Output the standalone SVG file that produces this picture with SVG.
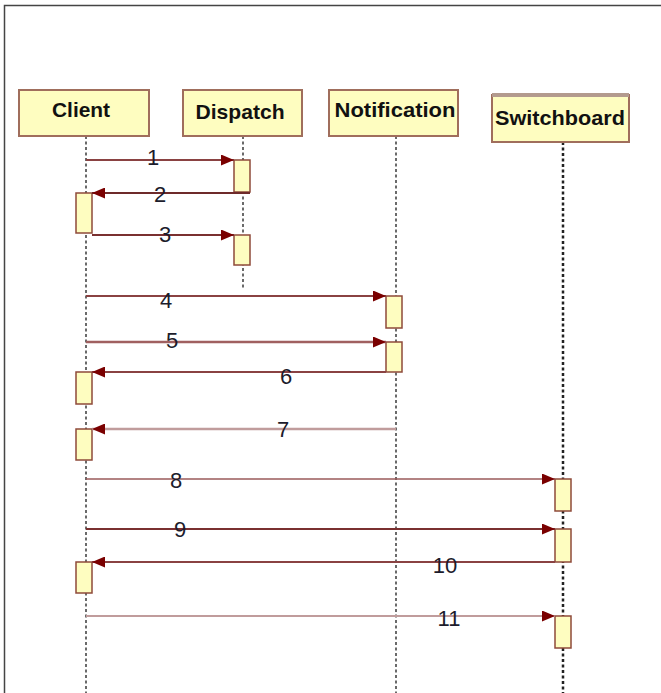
<svg xmlns="http://www.w3.org/2000/svg" width="661" height="693" viewBox="0 0 661 693">
<style>
.hdr{fill:#fefdc0;stroke:#a06e5c;stroke-width:2}
.hname{font-family:"Liberation Sans",Arial,sans-serif;font-weight:bold;font-size:21px;fill:#111;text-anchor:middle}
.life{stroke:#3a3a3a;stroke-width:1.5;stroke-dasharray:3 2.5;fill:none}
.act{fill:#fefdc0;stroke:#8e4a3a;stroke-width:1.5}
.msg{stroke:#8a4242;stroke-width:1.8;fill:none}
.light{stroke:#c09c9c;stroke-width:2.5}
.lbl{font-family:"Liberation Sans",Arial,sans-serif;font-size:22px;fill:#1c1c2c;text-anchor:middle}
</style>
<defs>
<marker id="ah" viewBox="0 0 13 11" refX="13" refY="5.5" markerWidth="13" markerHeight="11" markerUnits="userSpaceOnUse" orient="auto">
<path d="M0,0 L13,5.5 L0,11 z" fill="#7a0000"/>
</marker>
</defs>
<rect width="661" height="693" fill="#fff"/>
<path d="M4.5,693 V5.5 H661" fill="none" stroke="#444" stroke-width="1.5"/>

<g id="lifelines">
<line class="life" x1="86" y1="136" x2="86" y2="693"/>
<line class="life" x1="243" y1="136" x2="243" y2="288"/>
<line class="life" x1="396" y1="136" x2="396" y2="693"/>
<line class="life" x1="563" y1="142" x2="563" y2="693" style="stroke:#222;stroke-width:2.5"/>
</g>

<g id="client"><rect class="hdr" x="19" y="90" width="130" height="46"/><text class="hname" x="81" y="117" textLength="58" lengthAdjust="spacingAndGlyphs">Client</text></g>
<g id="dispatch"><rect class="hdr" x="183" y="90" width="119" height="46"/><text class="hname" x="240" y="119" textLength="89" lengthAdjust="spacingAndGlyphs">Dispatch</text></g>
<g id="notification"><rect class="hdr" x="329" y="90" width="129" height="46"/><text class="hname" x="395" y="117" textLength="121" lengthAdjust="spacingAndGlyphs">Notification</text></g>
<g id="switchboard"><rect class="hdr" x="492" y="95" width="137" height="47"/><line x1="492" y1="95" x2="629" y2="95" stroke="#b39a8e" stroke-width="4"/><text class="hname" x="560" y="125" textLength="130" lengthAdjust="spacingAndGlyphs">Switchboard</text></g>

<g id="activations">
<rect class="act" x="234" y="160" width="16" height="32"/>
<rect class="act" x="76" y="193" width="16" height="40"/>
<rect class="act" x="234" y="235" width="16" height="30"/>
<rect class="act" x="386" y="296" width="16" height="32"/>
<rect class="act" x="386" y="342" width="16" height="30"/>
<rect class="act" x="76" y="372" width="16" height="32"/>
<rect class="act" x="76" y="429" width="16" height="31"/>
<rect class="act" x="555" y="479" width="16" height="32"/>
<rect class="act" x="555" y="529" width="16" height="33"/>
<rect class="act" x="76" y="562" width="16" height="31"/>
<rect class="act" x="555" y="616" width="16" height="32"/>
</g>

<g id="connectors">
<line class="msg" x1="86" y1="160" x2="234" y2="160" marker-end="url(#ah)"/>
<line class="msg" x1="250" y1="193" x2="92" y2="193" marker-end="url(#ah)" style="stroke:#6e2a2a;stroke-width:2.2"/>
<line class="msg" x1="92" y1="235" x2="234" y2="235" marker-end="url(#ah)" style="stroke:#7a3030;stroke-width:2.2"/>
<line class="msg" x1="86" y1="296" x2="386" y2="296" marker-end="url(#ah)"/>
<line class="msg" x1="86" y1="342" x2="386" y2="342" marker-end="url(#ah)" style="stroke:#a06060;stroke-width:2.5"/>
<line class="msg" x1="386" y1="372" x2="92" y2="372" marker-end="url(#ah)"/>
<line class="msg light" x1="396" y1="429" x2="92" y2="429" marker-end="url(#ah)"/>
<line class="msg" x1="86" y1="479" x2="555" y2="479" marker-end="url(#ah)" style="stroke:#9a5a5a;stroke-width:1.5"/>
<line class="msg" x1="86" y1="529" x2="555" y2="529" marker-end="url(#ah)" style="stroke:#7a3030;stroke-width:2.2"/>
<line class="msg" x1="555" y1="562" x2="92" y2="562" marker-end="url(#ah)"/>
<line class="msg light" x1="86" y1="616" x2="555" y2="616" marker-end="url(#ah)" style="stroke-width:2"/>
</g>

<g id="labels">
<text class="lbl" x="153" y="165">1</text>
<text class="lbl" x="160" y="202">2</text>
<text class="lbl" x="165" y="242">3</text>
<text class="lbl" x="166" y="308">4</text>
<text class="lbl" x="172" y="348">5</text>
<text class="lbl" x="286" y="384">6</text>
<text class="lbl" x="283" y="437">7</text>
<text class="lbl" x="176" y="488">8</text>
<text class="lbl" x="180" y="537">9</text>
<text class="lbl" x="445" y="573">10</text>
<text class="lbl" x="449" y="626">11</text>
</g>
</svg>
